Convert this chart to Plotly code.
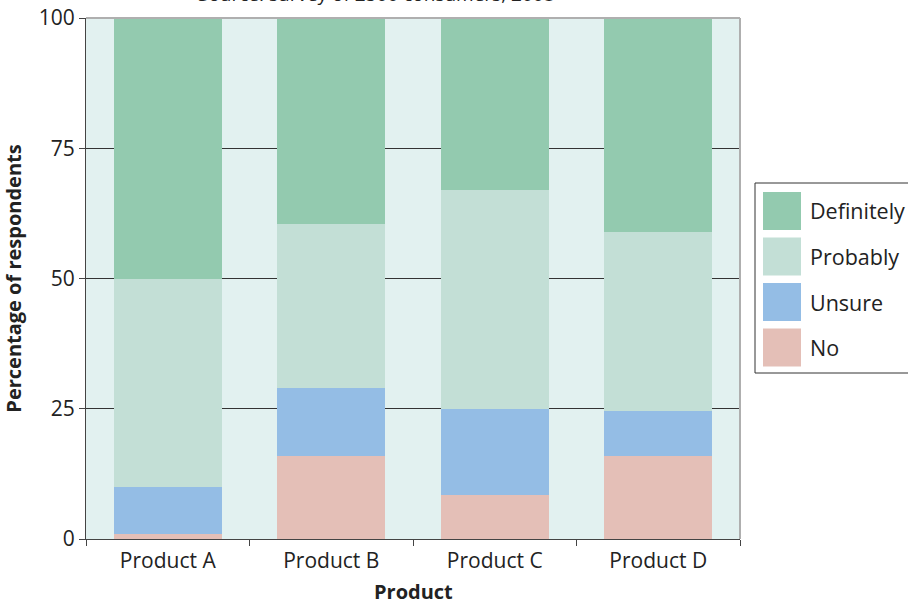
import plotly.graph_objects as go

products = ["Product A", "Product B", "Product C", "Product D"]
no = [1, 16, 8.5, 16]
unsure = [9, 13, 16.5, 8.5]
probably = [40, 31.5, 42, 34.5]
definitely = [50, 39.5, 33, 41]
series_names = ["No", "Unsure", "Probably", "Definitely"]
series_values = [no, unsure, probably, definitely]
colors = ["#E4BFB7", "#94BDE5", "#C3DFD6", "#93CAAF"]
y_ticks = [0, 25, 50, 75, 100]

FONT = "Open Sans"
W, H = 908, 601
L, R, T, B = 86, 740, 18, 539
PW, PH = R - L, B - T

def fx(x): return (x - L) / PW
def fy(y): return (B - y) / PH

fig = go.Figure()
for name, vals, col in zip(series_names, series_values, colors):
    fig.add_trace(go.Bar(x=products, y=vals, name=name, marker_color=col,
                         marker_line_width=0, showlegend=False))

# custom legend (large swatches)
legend_order = ["Definitely", "Probably", "Unsure", "No"]
fig.add_shape(type="rect", xref="paper", yref="paper",
              x0=fx(755), x1=fx(915), y0=fy(373), y1=fy(183),
              line=dict(color="#333333", width=1), fillcolor="white")
for i, name in enumerate(legend_order):
    col = colors[series_names.index(name)]
    top = 192 + i * 45.5
    fig.add_shape(type="rect", xref="paper", yref="paper",
                  x0=fx(763), x1=fx(801), y0=fy(top + 38), y1=fy(top),
                  line=dict(width=0), fillcolor=col)
    fig.add_annotation(xref="paper", yref="paper", x=fx(808),
                       y=fy(top + 19), text=name, showarrow=False,
                       xanchor="left", yanchor="middle",
                       font=dict(family=FONT, size=21.5, color="#222222"))

fig.add_annotation(xref="paper", yref="paper", x=fx(376), y=fy(9),
                   text="Source: survey of 2500 consumers, 2008", showarrow=False,
                   xanchor="center", yanchor="bottom",
                   font=dict(family=FONT, size=19, color="#222222"))

# x-axis title
fig.add_annotation(xref="paper", yref="paper", x=0.5, y=fy(591),
                   text="<b>Product</b>", showarrow=False,
                   xanchor="center", yanchor="middle",
                   font=dict(family=FONT, size=20, color="#222222"))

fig.update_layout(
    barmode="stack",
    bargap=0.34,
    width=W, height=H,
    margin=dict(l=L, r=W - R, t=T, b=H - B, autoexpand=False),
    plot_bgcolor="#E2F1F0",
    paper_bgcolor="white",
    font=dict(family=FONT, size=21, color="#222222"),
    showlegend=False,
)
fig.update_xaxes(
    automargin=False,
    tickson="boundaries", ticks="outside", ticklen=6, tickcolor="#444444",
    showline=True, linecolor="#444444", linewidth=1, mirror=False,
    tickfont=dict(family=FONT, size=21, color="#222222"),
    ticklabelstandoff=3,
    showgrid=False,
)
fig.update_yaxes(
    automargin=False,
    title=dict(text="<b>Percentage of respondents</b>", font=dict(family=FONT, size=20), standoff=14),
    range=[0, 100], tickvals=y_ticks, ticks="outside", ticklen=6, tickcolor="#444444",
    showline=True, linecolor="#444444", linewidth=1,
    showgrid=True, gridcolor="#333333", gridwidth=1,
    zeroline=False,
    tickfont=dict(family=FONT, size=21, color="#222222"),
)
# light grey top and right border
fig.add_shape(type="line", xref="paper", yref="paper", x0=0, x1=1, y0=1, y1=1,
              line=dict(color="#AFAFAF", width=2))
fig.add_shape(type="line", xref="paper", yref="paper", x0=1, x1=1, y0=0, y1=1,
              line=dict(color="#AFAFAF", width=2))

fig.write_html("out.html", config={"displayModeBar": False},
               post_script="document.body.style.margin='0';document.body.style.overflow='hidden';")
